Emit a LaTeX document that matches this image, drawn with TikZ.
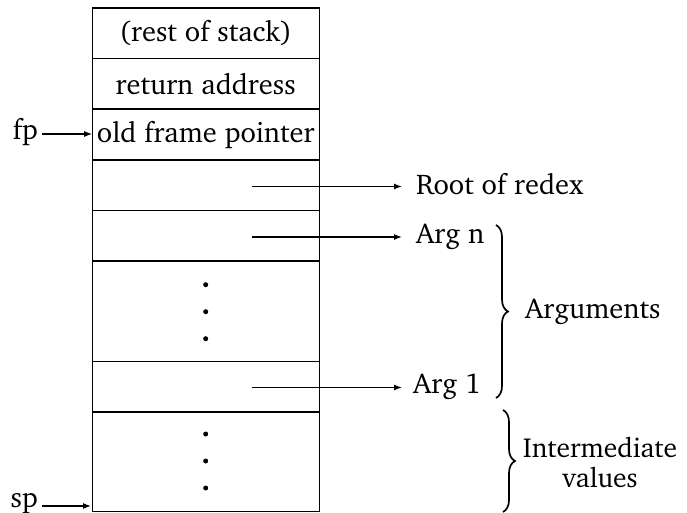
\documentclass[tikz,border=0pt]{standalone}
\usepackage[T1]{fontenc}
\usepackage{charter}
\usetikzlibrary{arrows.meta,decorations.pathreplacing}
\begin{document}
\begin{tikzpicture}[x=1pt,y=-1pt,
  every node/.style={font=\fontsize{28.5}{30}\selectfont},
  cell/.style={draw,line width=1.4pt,minimum width=227pt,inner sep=0pt,outer sep=0pt},
  ptr/.style={line width=1.2pt,-{Latex[length=8pt,width=6pt]}},
  lab/.style={anchor=west,inner sep=0pt},
  dot/.style={circle,fill,inner sep=0pt,minimum size=5pt},
  grp/.style={decorate,decoration={brace,amplitude=12pt},line width=1.7pt}]
\useasboundingbox (0,0) rectangle (687,513);
% stack cells, top to bottom
\node[cell,minimum height=50.5pt] (rest) at (205.7,33.25) {(rest of stack)};
\node[cell,minimum height=50.5pt] (ret)  at (205.7,83.75) {return address};
\node[cell,minimum height=50.5pt] (ofp)  at (205.7,134.5) {old frame pointer};
\node[cell,minimum height=50.5pt] (root) at (205.7,185.25) {};
\node[cell,minimum height=50.5pt] (argn) at (205.7,235.75) {};
\node[cell,minimum height=100.5pt] (mid) at (205.7,311.25) {};
\node[cell,minimum height=50.5pt] (arg1) at (205.7,386.75) {};
\node[cell,minimum height=99.5pt] (inter) at (205.7,461.75) {};
% vertical dots
\node[dot] (d1) at (205.7,284.7) {};
\node[dot] (d2) at (205.7,311.7) {};
\node[dot] (d3) at (205.7,338.7) {};
\node[dot] (d4) at (205.7,434) {};
\node[dot] (d5) at (205.7,461) {};
\node[dot] (d6) at (205.7,488) {};
% frame and stack pointers
\node[anchor=east,inner sep=0pt] (fp) at (38,132) {fp};
\node[anchor=east,inner sep=0pt] (sp) at (38,503) {sp};
\coordinate (fptip) at (ofp.west);
\coordinate (sptip) at (91,506);
\draw[ptr] (fp.east) ++(4,2) coordinate (fps) -- (fptip |- fps);
\draw[ptr] (sp.east) ++(4,3) coordinate (sps) -- (sptip);
% pointers out of the frame
\node[lab] (lroot) at (416,184) {Root of redex};
\node[lab] (largn) at (416,237) {Arg n};
\node[lab] (larg1) at (413,387) {Arg 1};
\coordinate (sroot) at (252,186.5);
\coordinate (sargn) at (252,237);
\coordinate (sarg1) at (252,387.5);
\draw[ptr] (sroot) -- (402,186.5);
\draw[ptr] (sargn) -- (402,237);
\draw[ptr] (sarg1) -- (402,387.5);
% braces
\draw[grp] (496,225) -- (496,398);
\draw[grp] (503,410) -- (503,512);
\node[lab] (largs) at (525,312) {Arguments};
\node[align=center,inner sep=0pt,font=\fontsize{27.5}{30}\selectfont] (linter) at (600,462) {Intermediate\\values};
\end{tikzpicture}
\end{document}
